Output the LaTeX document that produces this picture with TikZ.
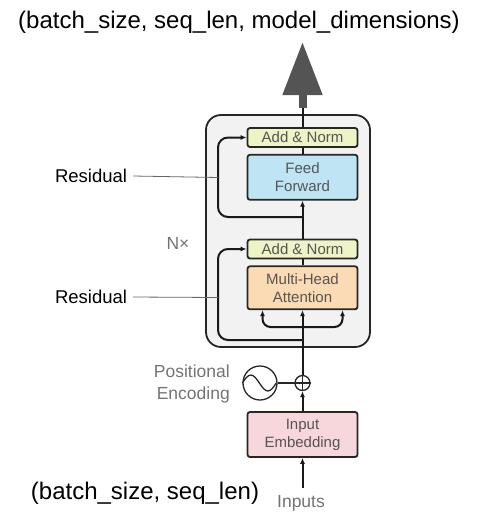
\documentclass[tikz,border=0pt]{standalone}
\usepackage{fontspec}
\setmainfont{Liberation Sans}
\usetikzlibrary{positioning,arrows.meta}
\definecolor{normfill}{HTML}{EEF4C6}
\definecolor{ffwdfill}{HTML}{BFE5F4}
\definecolor{attnfill}{HTML}{FADBB4}
\definecolor{embfill}{HTML}{F7D7DC}
\definecolor{layerfill}{HTML}{F2F2F2}
\definecolor{boxtext}{HTML}{555555}

\begin{document}
\begin{tikzpicture}[x=1pt,y=-1pt,
	block/.style={draw=black!85, line width=1.8pt, rounded corners=2.5pt,
	minimum width=110pt, inner sep=0pt, align=center, text=boxtext,
	font=\fontsize{15}{18}\selectfont},
	normbox/.style={block, fill=normfill, minimum height=19pt},
	ffwdbox/.style={block, fill=ffwdfill, minimum height=45pt},
	attnbox/.style={block, fill=attnfill, minimum height=43pt},
	embbox/.style={block, fill=embfill, minimum height=45pt},
	flow/.style={line width=2pt, black!90},
	tip/.style={-{Latex[length=6pt,width=5pt]}},
	note/.style={font=\fontsize{17.5}{22}\selectfont, text=black!55, inner sep=0pt},
	]
	\useasboundingbox (0,0) rectangle (480,525);
	
	\node[draw=black!85, fill=layerfill, line width=1.8pt, rounded corners=15pt,
	minimum width=164pt, minimum height=232pt] (layer) at (288,231) {};
	
	\node[normbox] (norm1) at (302.5,137.5) {Add \& Norm};
	\node[ffwdbox] (ffwd) [below=6pt of norm1] {Feed\\Forward};
	\node[normbox] (norm2) at (302.5,249) {Add \& Norm};
	\node[attnbox] (attn) [below=6pt of norm2] {Multi-Head\\Attention};
	\node[embbox] (emb) at (302.5,434.5) {Input\\Embedding};
	
	\node[circle, draw=black!85, line width=1.3pt, minimum size=15pt, inner sep=0pt] (add) at (302.5,383) {};
	\draw[line width=1.1pt, black!85] (add.north) -- (add.south) (add.west) -- (add.east);
	\node[circle, draw=black!85, line width=1.3pt, minimum size=34pt, inner sep=0pt] (pos) at (260,383) {};
	\draw[line width=1.3pt, black!85] (pos.west) sin ++(8.5,-8) cos ++(8.5,8) sin ++(8.5,8) cos ++(8.5,-8);
	\draw[line width=1.3pt, black!85] (pos.east) -- (add.west);
	
	\node[note, align=right, anchor=east] (postext) at (230,384) {Positional\\Encoding};
	\node[note] (nx) at (178,243) {N×};
	\node[note] (inputs) at (301,503) {Inputs};
	
	\coordinate (inbottom) at (302.5,488);
	\coordinate (split) at (302.5,327);
	\coordinate (res2start) at (302.5,340);
	\coordinate (res1start) at (302.5,217);
	\coordinate (outtop) at (302.5,108);
	\coordinate (outtip) at (302.5,42);
	
	\draw[flow,tip] (inbottom) -- (emb.south);
	\draw[flow,tip] (emb.north) -- (add.south);
	\draw[flow,tip] (add.north) -- (attn.south);
	\draw[flow,tip,rounded corners=8pt] (split) -| ([xshift=-40pt]attn.south);
	\draw[flow,tip,rounded corners=8pt] (split) -| ([xshift=40pt]attn.south);
	\draw[flow] (attn.north) -- (norm2.south);
	\draw[flow,tip] (norm2.north) -- (ffwd.south);
	\draw[flow] (ffwd.north) -- (norm1.south);
	\draw[flow,tip,rounded corners=10pt] (res2start) -| (218,300) |- (norm2.west);
	\draw[flow,tip,rounded corners=10pt] (res1start) -| (218,180) |- (norm1.west);
	\draw[flow] (norm1.north) -- (outtop);
	\draw[color=black!67, line width=8pt, -{Triangle[width=38pt,length=53pt]}] (outtop) -- (outtip);
	
	\node[font=\fontsize{18.5}{22}\selectfont, inner sep=0pt] (res1) at (91,176) {Residual};
	\node[font=\fontsize{18.5}{22}\selectfont, inner sep=0pt] (res2) at (91,297) {Residual};
	\coordinate (res1end) at (218,177.5);
	\coordinate (res2end) at (218,297.5);
	\draw[black!60, line width=0.8pt] ([xshift=6pt]res1.east) -- (res1end);
	\draw[black!60, line width=0.8pt] ([xshift=6pt]res2.east) -- (res2end);
	
	\node[font=\fontsize{24}{28}\selectfont, inner sep=0pt] (outshape) at (239,22) {(batch\_size, seq\_len, model\_dimensions)};
	\node[font=\fontsize{24}{28}\selectfont, inner sep=0pt] (inshape) at (145,493) {(batch\_size, seq\_len)};
\end{tikzpicture}
\end{document}
